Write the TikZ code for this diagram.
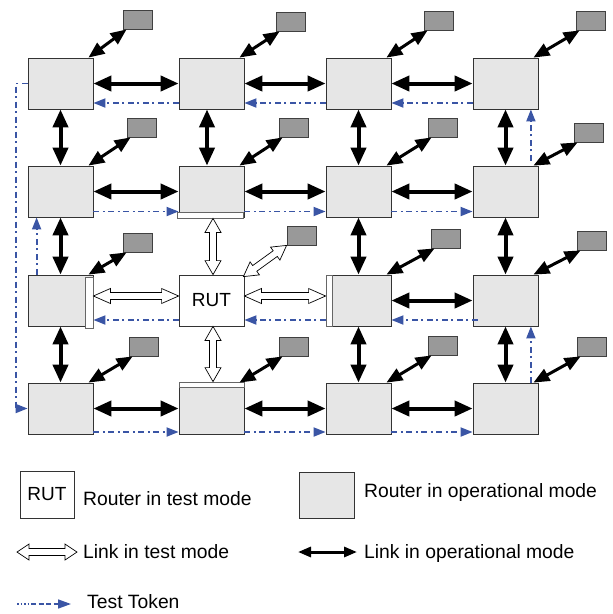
\documentclass[tikz,border=0pt]{standalone}
\usepackage{fontspec}
\setmainfont{Liberation Sans}
\usetikzlibrary{arrows.meta,calc}
\definecolor{routerfill}{HTML}{E6E6E6}
\definecolor{pefill}{HTML}{999999}
\definecolor{tokblue}{HTML}{3A55A5}
% hollow double-headed link: #1 start, #2 end, #3 head length, #4 head half width, #5 shaft half width
\newcommand\hollowlink[5]{%
  \draw[tlinkline] (#1)
    -- ($(#1)!#3!(#2)!#4!90:(#2)$)
    -- ($(#1)!#3!(#2)!#5!90:(#2)$)
    -- ($(#2)!#3!(#1)!#5!-90:(#1)$)
    -- ($(#2)!#3!(#1)!#4!-90:(#1)$)
    -- (#2)
    -- ($(#2)!#3!(#1)!#4!90:(#1)$)
    -- ($(#2)!#3!(#1)!#5!90:(#1)$)
    -- ($(#1)!#3!(#2)!#5!-90:(#2)$)
    -- ($(#1)!#3!(#2)!#4!-90:(#2)$)
    -- cycle;}
\begin{document}
\begin{tikzpicture}[x=1pt,y=-1pt,
  router/.style={draw=black!80, fill=routerfill, line width=0.8pt, minimum width=65pt, minimum height=51pt, inner sep=0pt},
  testrouter/.style={router, fill=white},
  pe/.style={draw=black!75, fill=pefill, line width=0.8pt, minimum width=29pt, minimum height=19pt, inner sep=0pt},
  portbar/.style={draw=black!60, fill=white, line width=0.8pt, inner sep=0pt},
  oplink/.style={line width=4pt, {Triangle[length=18pt,width=15pt]}-{Triangle[length=18pt,width=15pt]}},
  pelink/.style={line width=3pt, {Triangle[length=16pt,width=13pt]}-{Triangle[length=16pt,width=13pt]}},
  tlinkline/.style={draw=black, fill=white, line width=0.7pt, line join=miter},
  token/.style={draw=tokblue, line width=1.8pt, dash pattern=on 6pt off 3.5pt on 2pt off 3.5pt, -{Triangle[length=12pt,width=9pt,fill=tokblue]}},
  legtoken/.style={draw=tokblue, line width=1.6pt, dash pattern=on 1.5pt off 2pt on 1.5pt off 2pt on 1.5pt off 2pt on 1.5pt off 2pt on 5pt off 2.5pt on 5pt off 2.5pt on 5pt off 2.5pt on 30pt off 0pt, -{Triangle[length=13pt,width=9pt,fill=tokblue]}},
  lbl/.style={font=\fontsize{19.3}{23}\selectfont, inner sep=0pt, anchor=base west},
]
\useasboundingbox (0,0) rectangle (613,614);

% routers
\node[router] (r11) at (60.5,83.5) {};
\node[router] (r12) at (211.5,83.5) {};
\node[router] (r13) at (358.5,83.5) {};
\node[router] (r14) at (505.5,83.5) {};
\node[router] (r21) at (60.5,191.5) {};
\node[router] (r22) at (211.5,191.5) {};
\node[router] (r23) at (358.5,191.5) {};
\node[router] (r24) at (505.5,191.5) {};
\node[router] (r31) at (60.5,300.5) {};
\node[testrouter] (rut) at (211.5,300.5) {\fontsize{19}{23}\selectfont RUT};
\node[router] (r33) at (358.5,300.5) {};
\node[router] (r34) at (505.5,300.5) {};
\node[router] (r41) at (60.5,408.5) {};
\node[router] (r42) at (211.5,408.5) {};
\node[router] (r43) at (358.5,408.5) {};
\node[router] (r44) at (505.5,408.5) {};

% test-mode ports
\node[portbar, minimum width=8pt, minimum height=51pt] (bar31) at (89,302.5) {};
\node[portbar, minimum width=6pt, minimum height=51pt] (bar33) at (329,300.5) {};
\node[portbar, minimum width=66pt, minimum height=6pt] (bar22) at (210,215) {};
\node[portbar, minimum width=65pt, minimum height=5pt] (bar42) at (211.5,384.5) {};

% processing elements
\node[pe] (p11) at (137.5,19.5) {};
\node[pe] (p12) at (290.5,21.5) {};
\node[pe] (p13) at (438.5,20.5) {};
\node[pe] (p14) at (590.5,20.5) {};
\node[pe] (p21) at (141.5,127.5) {};
\node[pe] (p22) at (293.5,127.5) {};
\node[pe] (p23) at (442.5,127.5) {};
\node[pe] (p24) at (588.5,132.5) {};
\node[pe] (p31) at (137.5,242.5) {};
\node[pe] (p32) at (301.5,235.5) {};
\node[pe] (p33) at (445.5,238.5) {};
\node[pe] (p34) at (591.5,240.5) {};
\node[pe] (p41) at (143.5,346.5) {};
\node[pe] (p42) at (293.5,346.5) {};
\node[pe] (p43) at (442.5,345.5) {};
\node[pe] (p44) at (591.5,346.5) {};

% operational links
\foreach \a/\b in {11/12,12/13,13/14,21/22,22/23,23/24,33/34,41/42,42/43,43/44}
  \draw[oplink] (r\a.east) -- (r\b.west);
\foreach \a/\b in {11/21,21/31,31/41,13/23,23/33,33/43,14/24,24/34,34/44}
  \draw[oplink] (r\a.south) -- (r\b.north);
\draw[oplink] ([xshift=-4.5pt]r12.south) -- ([xshift=-4.5pt]r22.north);
\foreach \n in {11,12,13,14,21,22,23,24,31,33,34,41,42,43,44}
  \draw[pelink] ([xshift=4pt]p\n.south west) -- ([xshift=-5pt]r\n.north east);

% test-mode links
\coordinate (tw1) at ([yshift=4.5pt]rut.west);
\coordinate (tw2) at (bar31.east |- tw1);
\coordinate (te1) at ([yshift=4.5pt]rut.east);
\coordinate (te2) at (bar33.west |- te1);
\coordinate (tn1) at ([xshift=1.5pt]rut.north);
\coordinate (tn2) at (bar22.south -| tn1);
\coordinate (ts1) at ([xshift=1.5pt]rut.south);
\coordinate (ts2) at (bar42.north -| ts1);
\coordinate (td1) at ([xshift=-1pt,yshift=-2pt]rut.north east);
\coordinate (td2) at (p32.south west);
\hollowlink{tw1}{tw2}{17pt}{7.5pt}{3.5pt}
\hollowlink{te1}{te2}{17pt}{7.5pt}{3.5pt}
\hollowlink{tn1}{tn2}{14pt}{8pt}{3.5pt}
\hollowlink{ts1}{ts2}{14pt}{8pt}{3.5pt}
\hollowlink{td1}{td2}{14pt}{8pt}{3.5pt}

% test token
\foreach \a/\b in {14/13,13/12,12/11}
  \draw[token] ([yshift=-19.5pt]r\a.west) -- ([yshift=-19.5pt]r\b.east);
\draw[token] (r11.west) -- ++(-12,0) |- (r41.west);
\foreach \a/\b in {41/42,42/43,43/44}
  \draw[token] ([yshift=-23.5pt]r\a.east) -- ([yshift=-23.5pt]r\b.west);
\draw[token] ([xshift=-7.5pt]r44.north east) -- ([xshift=-7.5pt]r34.south east);
\draw[token] ([xshift=5pt,yshift=-19.5pt]r34.west) -- ([yshift=-19.5pt]r33.east);
\draw[token] ([yshift=-19.5pt]r33.west) -- ([yshift=-19.5pt]rut.east);
\draw[token] ([yshift=-19.5pt]rut.west) -- ([yshift=-19.5pt]r31.east);
\draw[token] ([xshift=9pt]r31.north west) -- ([xshift=9pt]r21.south west);
\foreach \a/\b in {21/22,22/23,23/24}
  \draw[token] ([yshift=-20pt]r\a.east) -- ([yshift=-20pt]r\b.west);
\draw[token] ([xshift=-7.5pt,yshift=5pt]r24.north east) -- ([xshift=-7.5pt]r14.south east);

% legend
\node[testrouter, minimum width=54pt, minimum height=47pt] (legrut) at (47,494.5) {\fontsize{19}{23}\selectfont RUT};
\node[lbl] (legruttxt) at (83,505) {Router in test mode};
\node[router, minimum width=55pt, minimum height=46pt] (legop) at (326.5,495) {};
\node[lbl] (legoptxt) at (364,497) {Router in operational mode};
\coordinate (lt1) at (17,552);
\coordinate (lt2) at (77,552);
\hollowlink{lt1}{lt2}{12pt}{8pt}{3.5pt}
\node[lbl] (legtltxt) at (83,558) {Link in test mode};
\coordinate (lo1) at (298,552);
\coordinate (lo2) at (357,552);
\draw[line width=3pt, {Triangle[length=13pt,width=10pt]}-{Triangle[length=13pt,width=10pt]}] (lo1) -- (lo2);
\node[lbl] (legoltxt) at (364,558) {Link in operational mode};
\coordinate (tk1) at (17,604);
\coordinate (tk2) at (71,604);
\draw[legtoken] (tk1) -- (tk2);
\node[lbl] (legtktxt) at (87,608) {Test Token};
\end{tikzpicture}
\end{document}
